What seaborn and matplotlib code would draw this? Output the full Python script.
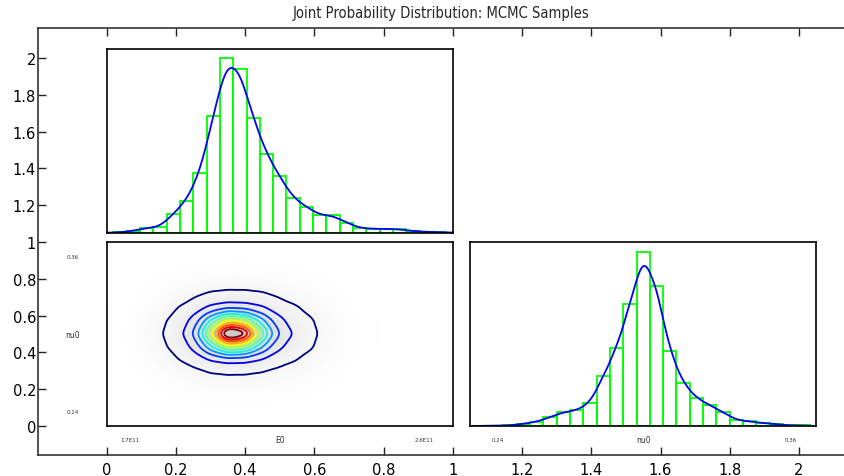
import warnings
warnings.filterwarnings("ignore")

import numpy as np
import pandas as pd
import matplotlib
matplotlib.use("Agg")
import matplotlib.pyplot as plt
from matplotlib.colors import LinearSegmentedColormap
from matplotlib.ticker import FormatStrFormatter
import seaborn as sns

# binned MCMC draws (counts per bin, out of 10000 samples)
e0_counts = [5, 21, 52, 58, 199, 338, 625, 1221, 1831, 1716, 1203, 826, 591,
             363, 274, 183, 183, 107, 49, 42, 42, 37, 18, 10, 7]
nu0_counts = [4, 4, 8, 28, 52, 108, 168, 189, 273, 601, 941, 1466, 2100,
              1682, 898, 517, 337, 252, 168, 72, 56, 36, 24, 8, 8]
e0_range = (1.649, 2.667)      # E0 in units of 1E11
nu0_range = (0.2314, 0.3679)

# coarse joint histogram (rows: nu0, columns: E0)
joint_e0 = [1.75, 1.80, 1.85, 1.90, 1.95, 2.00, 2.05, 2.10, 2.15, 2.20, 2.25, 2.30, 2.35]
joint_nu0 = [0.25, 0.26, 0.27, 0.28, 0.29, 0.30, 0.31, 0.32, 0.33, 0.34, 0.35]
joint_counts = [
    [10, 12, 15, 17, 18, 19, 19, 18, 17, 15, 13, 11, 9],
    [13, 16, 20, 26, 31, 33, 33, 30, 26, 21, 18, 15, 12],
    [17, 25, 36, 52, 67, 73, 72, 64, 52, 38, 29, 20, 16],
    [24, 38, 67, 95, 131, 145, 142, 125, 94, 72, 50, 32, 21],
    [32, 58, 95, 154, 320, 510, 455, 270, 151, 104, 76, 42, 28],
    [35, 66, 116, 210, 590, 1080, 950, 470, 210, 130, 86, 50, 31],
    [32, 59, 96, 162, 345, 560, 495, 290, 160, 106, 76, 43, 29],
    [25, 39, 69, 100, 142, 162, 156, 137, 100, 77, 52, 33, 22],
    [18, 26, 38, 60, 78, 86, 85, 77, 60, 42, 31, 21, 17],
    [13, 17, 20, 28, 34, 37, 37, 34, 28, 21, 18, 15, 12],
    [10, 12, 15, 17, 18, 19, 19, 18, 17, 15, 13, 11, 9],
]
n_contours = 12

e0_ticks = [1.7, 1.8, 1.9, 2.0, 2.1, 2.2, 2.3, 2.4, 2.5, 2.6]
e0_ticklabels = ["1.7E11", "", "", "", "", "", "", "", "", "2.6E11"]
nu0_ticks = [0.24, 0.26, 0.28, 0.30, 0.32, 0.34, 0.36]
nu0_ticklabels = ["0.24", "", "", "", "", "", "0.36"]
outer_ticks = [0, 0.2, 0.4, 0.6, 0.8, 1, 1.2, 1.4, 1.6, 1.8, 2]
title = "Joint Probability Distribution: MCMC Samples"

sns.set_theme(style="white")
plt.rcParams["font.family"] = ["DejaVu Sans"]


def bins_of(counts, rng):
    edges = np.linspace(rng[0], rng[1], len(counts) + 1)
    centers = (edges[:-1] + edges[1:]) / 2
    width = edges[1] - edges[0]
    return centers, width


e0_centers, e0_w = bins_of(e0_counts, e0_range)
nu0_centers, nu0_w = bins_of(nu0_counts, nu0_range)
e0_lim = (e0_range[0] - e0_w / 2, e0_range[1] + e0_w / 2)
nu0_lim = (nu0_range[0] - nu0_w / 2, nu0_range[1] + nu0_w / 2)


def style_inset(a):
    for s in a.spines.values():
        s.set_visible(True)
        s.set_color("black")
        s.set_linewidth(1.2)
    a.set_xlabel("")
    a.set_ylabel("")
    a.tick_params(axis="both", direction="out", color="black", width=0.9,
                  labelsize=4, labelcolor="#333333")


def marginal(a, centers, counts, rng, width, lim, bw):
    d = pd.DataFrame({"v": centers, "n": counts})
    sns.histplot(data=d, x="v", weights="n", bins=len(counts), binrange=rng,
                 stat="density", fill=False, color="#00ff00", linewidth=1.3, ax=a)
    sns.kdeplot(data=d, x="v", weights="n", bw_adjust=bw, cut=3,
                color="#0000ff", linewidth=1.3, ax=a)
    peak = max(counts) / (sum(counts) * width)
    a.set_xlim(*lim)
    a.set_ylim(0, peak * 1.055)
    a.set_yticks([])
    style_inset(a)


fig = plt.figure(figsize=(8.45, 4.77), dpi=100)
ax = fig.add_axes([0.0444, 0.044, 0.9556, 0.8942])
ax.set_xlim(-0.2, 2.133)
ax.set_ylim(-0.157, 2.16)
ax.set_xticks(outer_ticks)
ax.set_yticks(outer_ticks)
ax.xaxis.set_major_formatter(FormatStrFormatter("%g"))
ax.yaxis.set_major_formatter(FormatStrFormatter("%g"))
ax.spines["right"].set_visible(False)
for s in ["left", "bottom", "top"]:
    ax.spines[s].set_color("#333333")
    ax.spines[s].set_linewidth(1.2)
ax.tick_params(direction="in", length=5.5, width=1.0, color="#222222",
               top=True, right=False, bottom=True, left=True,
               labelsize=10.5, labelcolor="black")
ax.tick_params(axis="y", pad=1)
ax.tick_params(axis="x", pad=5)
ax.set_title(title, fontsize=10.6, fontstretch="condensed", pad=8)

ax_top = ax.inset_axes([0, 1.05, 1, 1], transform=ax.transData)
ax_joint = ax.inset_axes([0, 0, 1, 1], transform=ax.transData)
ax_right = ax.inset_axes([1.05, 0, 1, 1], transform=ax.transData)

# marginal of E0 (top)
marginal(ax_top, e0_centers, e0_counts, e0_range, e0_w, e0_lim, 0.3)
ax_top.set_xticks(e0_ticks, labels=[])
ax_top.tick_params(axis="x", length=3.3)

# marginal of nu0 (right)
marginal(ax_right, nu0_centers, nu0_counts, nu0_range, nu0_w, nu0_lim, 0.3)
ax_right.set_xticks(nu0_ticks, labels=nu0_ticklabels)
ax_right.tick_params(axis="x", length=3.3, pad=4.5)
ax_right.set_xlabel("nu0", fontsize=5.5, color="#333333", va="center")
ax_right.xaxis.set_label_coords(0.5, -0.0745)

# joint density of the two parameters
joint = pd.DataFrame({
    "e0": np.tile(joint_e0, len(joint_nu0)),
    "nu0": np.repeat(joint_nu0, len(joint_e0)),
    "w": np.array(joint_counts).ravel(),
})

# faint cloud of the samples
haze = LinearSegmentedColormap.from_list("haze", ["#ffffff", "#c8c8c8"])
sns.kdeplot(data=joint, x="e0", y="nu0", weights="w", fill=True, levels=25,
            thresh=0.01, cmap=haze, bw_method=0.6, ax=ax_joint)

# smoothed joint histogram, contoured at equally spaced density levels
gx = np.linspace(e0_lim[0], e0_lim[1], 320)
gy = np.linspace(nu0_lim[0], nu0_lim[1], 220)
kx = np.exp(-0.5 * ((gx[:, None] - np.array(joint_e0)[None, :]) / 0.0275) ** 2)
ky = np.exp(-0.5 * ((gy[:, None] - np.array(joint_nu0)[None, :]) / 0.0054) ** 2)
dens = ky @ np.array(joint_counts, dtype=float) @ kx.T
levels = dens.max() * np.arange(1, n_contours + 1) / (n_contours + 1)
ax_joint.contour(gx, gy, dens, levels=levels, cmap="jet", linewidths=1.3)

ax_joint.set_xlim(*e0_lim)
ax_joint.set_ylim(*nu0_lim)
style_inset(ax_joint)
ax_joint.set_xticks(e0_ticks, labels=e0_ticklabels)
ax_joint.set_yticks(nu0_ticks, labels=nu0_ticklabels)
ax_joint.tick_params(axis="x", length=3.3, pad=4.5)
ax_joint.tick_params(axis="y", length=4, pad=20.5)
for lab in ax_joint.get_yticklabels():
    lab.set_ha("center")
ax_joint.set_xlabel("E0", fontsize=5.5, color="#333333", va="center")
ax_joint.xaxis.set_label_coords(0.5, -0.0745)
ax_joint.set_ylabel("nu0", fontsize=5.5, color="#333333", rotation=0,
                    ha="center", va="center")
ax_joint.yaxis.set_label_coords(-0.1, 0.5)

fig.savefig("out.png", dpi=100)
